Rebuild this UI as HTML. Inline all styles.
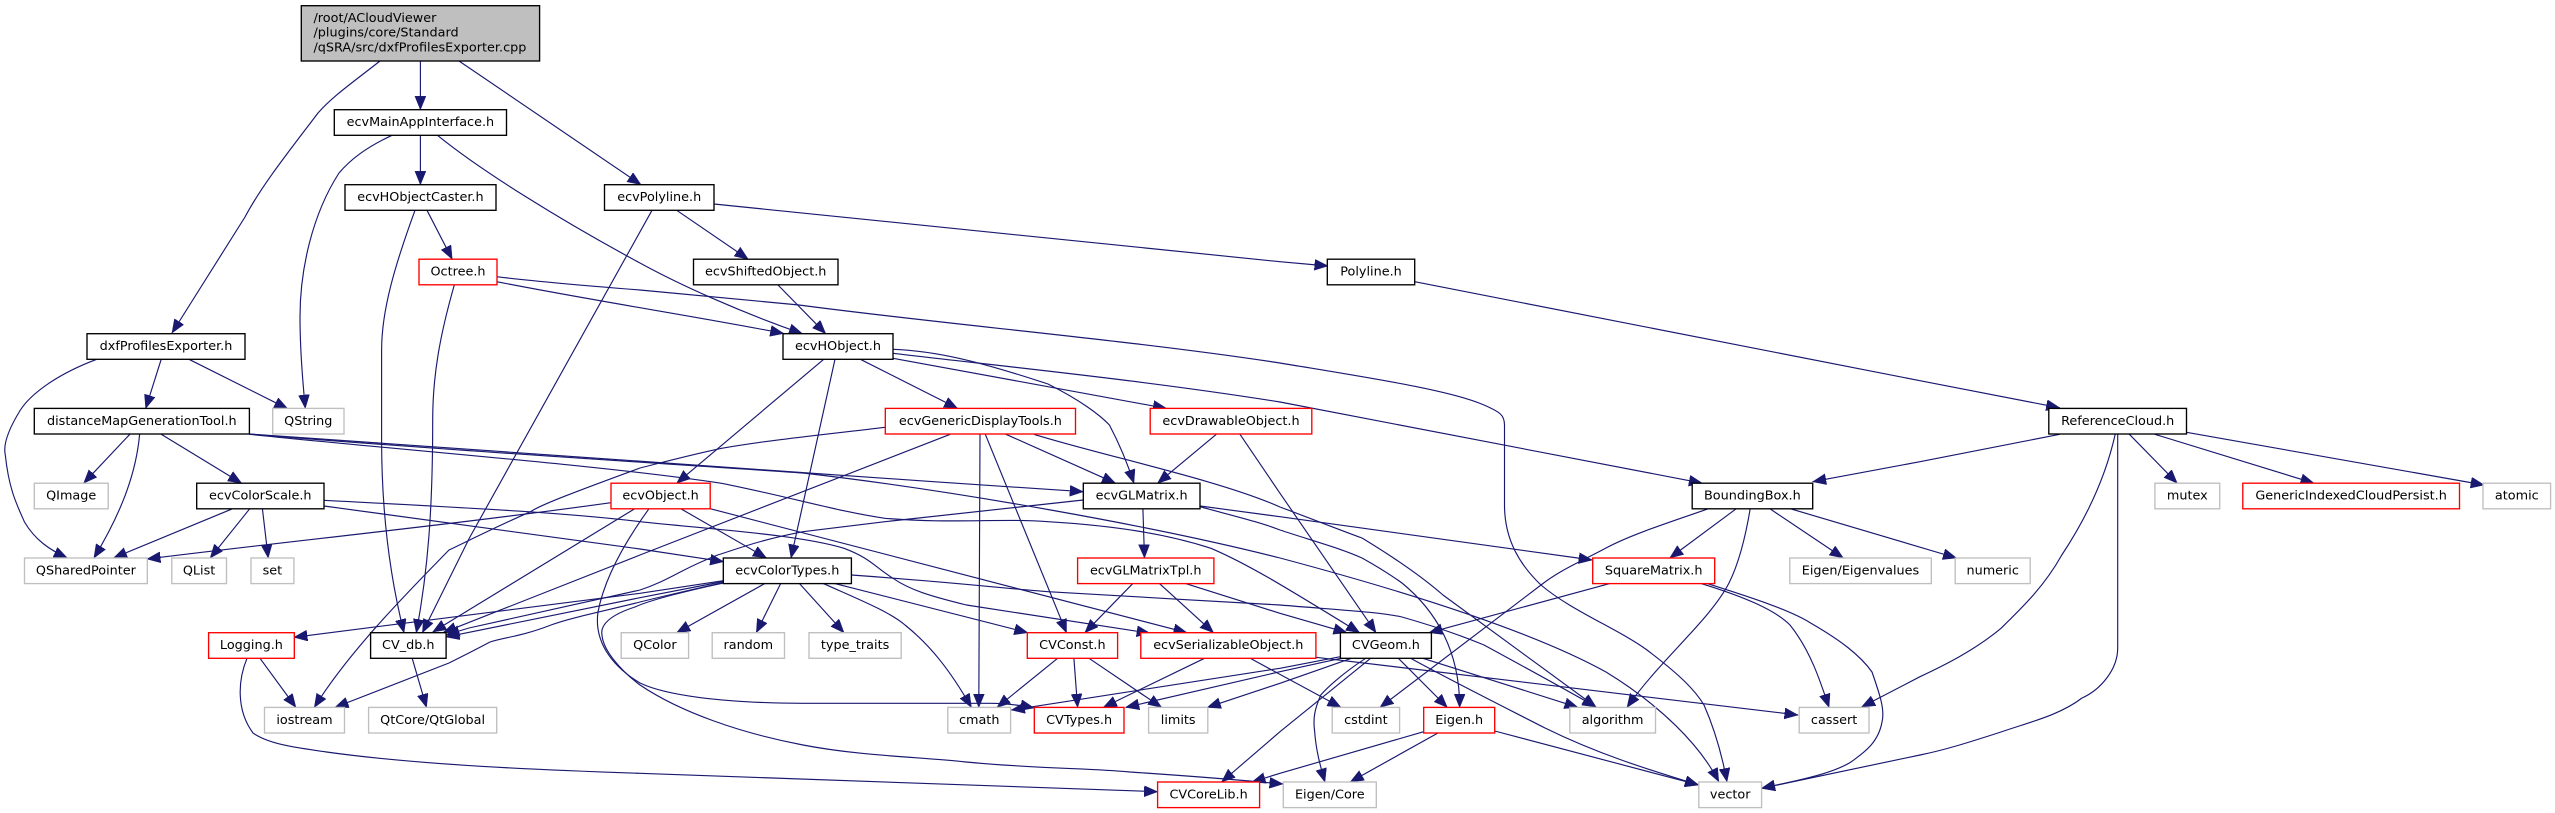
<!DOCTYPE html>
<html><head><meta charset="utf-8"><style>
html,body{margin:0;padding:0;background:#fff;width:2555px;height:813px;overflow:hidden}
svg{display:block}
text{font-family:"DejaVu Sans","Liberation Sans",sans-serif;font-size:12.8px;fill:#000;text-anchor:middle}
.e path{fill:none;stroke:#191970;stroke-width:1.15;marker-end:url(#a)}
.b rect{fill:#fff;stroke:#000;stroke-width:1.35}
.g rect{fill:#fff;stroke:#bfbfbf;stroke-width:1.35}
.r rect{fill:#fff;stroke:#ff0000;stroke-width:1.35}
</style></head><body>
<svg xmlns="http://www.w3.org/2000/svg" width="2555" height="813" viewBox="0 0 2555 813">
<defs><marker id="a" markerUnits="userSpaceOnUse" markerWidth="15" markerHeight="13" refX="13.5" refY="5.5" orient="auto"><path d="M0,0L13.5,5.5L0,11Z" fill="#191970" stroke="#191970" stroke-width=".5"/></marker></defs>
<rect width="2555" height="813" fill="#fff"/>
<g class="e">
<path d="M380,61C352,83 333,96 318,113C290,150 262,185 245,217L172,333"/>
<path d="M420.4,61L420.4,109.7"/>
<path d="M459,61L641,184.7"/>
<path d="M392,135.3C365,148 350,160 339,173C312,215 300,270 300,317C300,350 303,385 305.3,408.3"/>
<path d="M420.4,135.3L420.4,184.7"/>
<path d="M437.5,135.3C480,170 560,220 640,263C680,285 740,312 802.4,333.7"/>
<path d="M415,210.3C395,265 381.6,310 381.6,350L381.6,440C381.6,520 392,585 404,632.7"/>
<path d="M427,210.3L452.2,259.2"/>
<path d="M454.3,285C440,335 432.7,375 432.7,420C432.7,510 428,570 416.3,632.7"/>
<path d="M496.7,281.7C600,302 700,317 783.7,333.5"/>
<path d="M496.7,276.7C540,282 590,286 640,290C700,296 750,300 799,305C950,325 1130,340 1280,363C1370,378 1450,390 1484,405C1500,412 1504.5,415 1504.5,425L1504.5,505C1504.5,540 1520,565 1541,585C1570,610 1620,630 1647,650C1680,675 1695,690 1704,705C1715,730 1722,755 1727,781.7"/>
<path d="M652,210.3L469.4,538L422.4,632.7"/>
<path d="M676.7,210.3L748.2,259.2"/>
<path d="M713.9,204L1280,261.7L1328,266"/>
<path d="M778,285L825.7,333.7"/>
<path d="M1414.7,281.7L1920,380.7L2059.7,407.8"/>
<path d="M96.7,359.3C55,375 30,395 20.4,410C8,430 3,445 5.3,455C9,490 17,505 24.5,522C35,540 50,550 67.3,558"/>
<path d="M161.2,359.3L145.7,408.4"/>
<path d="M189,359.3L287.8,408.8"/>
<path d="M129.8,434.3L83.7,483.2"/>
<path d="M139.6,434.3C136,475 120,515 93.9,558"/>
<path d="M161.2,434.3L241.6,483.2"/>
<path d="M249.4,434C400,447 760,470 1083.3,491.7"/>
<path d="M249.4,434C400,447 640,462 803,473C950,490 1150,525 1280,558C1400,590 1530,630 1606,672C1660,705 1700,745 1718.8,781.7"/>
<path d="M249.4,434.3C400,450 600,465 721.6,483.3C790,497 840,512 885,518.3C950,524 1000,518 1048,521.7C1120,526 1170,535 1211,548.3C1250,565 1290,590 1359.6,632.7"/>
<path d="M232.7,508.7L113.5,558"/>
<path d="M249.8,508.7L210.2,558"/>
<path d="M262.4,508.7L268.2,558"/>
<path d="M324,500.3C450,507 560,512 640,521.7C720,530 800,535 844,548.3C870,558 875,567 893,578.3C910,590 930,596 966.5,605L1150.2,633.3"/>
<path d="M324,506L640,549L723.7,561.7"/>
<path d="M611,502.7C450,525 300,540 147,559"/>
<path d="M634.7,508.7L432.7,632"/>
<path d="M680.8,508.7L766.5,558"/>
<path d="M710.2,508.7L1187,632.7"/>
<path d="M649,508.7C630,535 605,575 598,612C594,640 610,665 640,683C665,695 720,703 803,703.3L990,703.3C1005,703.5 1020,705 1034,708"/>
<path d="M885.3,427.3C820,435 770,440 721.6,448.3C690,455 660,463 640,468C580,490 540,505 530.6,511.7C500,525 470,540 449,550C410,590 350,650 314.3,707.4"/>
<path d="M950.2,434.3L640,555L443,632.7"/>
<path d="M1083.3,500L885,521.7L803,531.7C760,540 740,548 717.6,555C700,562 690,567 680.8,571.7C665,580 655,585 640,590L469,628L446,635"/>
<path d="M723.3,580.7L640,593.3L293.9,637.3"/>
<path d="M723.3,581.5L640,597.7L446,637"/>
<path d="M723.3,582.5C690,590 660,597 640,602C600,612 570,618 551,625C520,637 505,637 490,642C475,650 465,655 449,663L335,707.4"/>
<path d="M723.3,583C690,590 650,600 635,607C610,615 600,625 602,635C603,650 620,670 640,685C680,712 740,733 803,745C860,756 920,757 966,762C1040,769 1090,768 1130,772C1190,776 1240,780 1283,784"/>
<path d="M765.3,583.3L676.7,632.7"/>
<path d="M780.8,583.3L756.3,632.7"/>
<path d="M799.2,583.3L844,632.7"/>
<path d="M822.9,583.3C860,600 890,612 905,625C930,645 950,670 971.4,707.4"/>
<path d="M833.9,583.3L1027.8,632.7"/>
<path d="M851.4,575C950,582 1000,588 1048,591.7C1130,597 1200,600 1280,605C1340,610 1380,612 1402,617C1430,625 1460,635 1484,645C1530,670 1570,692 1596,707"/>
<path d="M980,434.3L978.8,707.4"/>
<path d="M985.3,434.3L1066.5,632.7"/>
<path d="M1006,434.3L1115.5,483.2"/>
<path d="M1034,434.3C1100,455 1220,480 1280,507C1320,522 1340,530 1362,538C1390,555 1420,575 1443,595L1596,707"/>
<path d="M823.7,359.3L676.7,483.2"/>
<path d="M835,359.3L791,558"/>
<path d="M860.4,359.3L957.6,408.4"/>
<path d="M893,358.3L1166.5,408.4"/>
<path d="M893,349.3C935,351 975,360 1048,384C1080,400 1100,415 1109.4,425C1120,445 1128,465 1133.9,483.2"/>
<path d="M893,353.3C1000,366 1150,381 1280,402L1702.4,483.2"/>
<path d="M1216.3,434.3L1157.6,483.2"/>
<path d="M1240,434.3L1280,493.3L1376,632.7"/>
<path d="M1142.9,508.7L1144.5,558"/>
<path d="M1200,506L1280,516.7L1592.2,560"/>
<path d="M1200,506.7C1230,515 1260,522 1280,530C1310,540 1340,548 1362,558C1380,568 1395,578 1402,583C1435,610 1460,650 1459.6,707.4"/>
<path d="M1133,583.3L1084.9,632.7"/>
<path d="M1159.2,583.3L1213.5,632.7"/>
<path d="M1184.9,583.3L1280,613.3L1347,632.7"/>
<path d="M1204.5,658.3L1103.3,707.4"/>
<path d="M1250.2,658.3L1341,707.4"/>
<path d="M1316,657.3L1798,715"/>
<path d="M1057.6,658.3L997,707.4"/>
<path d="M1073.9,658.3L1077.6,707.4"/>
<path d="M1089,658.3L1161.6,707.4"/>
<path d="M1340.4,656.7L1280,668.3L1011.4,710"/>
<path d="M1341,658.3L1280,671.7L1125.7,707.4"/>
<path d="M1351.4,658.3L1280,683.3L1207.3,707.4"/>
<path d="M1370.6,658.3L1280,731.7L1221.6,782"/>
<path d="M1365.7,658.3C1340,675 1325,690 1320.8,695C1314,710 1313,720 1314.7,732C1316,750 1320,765 1324.9,782"/>
<path d="M1398.4,658.3L1447.3,707.4"/>
<path d="M1422.9,658.3L1578,707.4"/>
<path d="M1410.6,658.3C1450,680 1500,705 1545,728C1600,755 1650,770 1698.4,785"/>
<path d="M1708.6,508.7C1670,522 1630,535 1606,548C1580,562 1560,570 1541,585L1380,707.4"/>
<path d="M1423.7,731.7L1280,773.3L1252,782"/>
<path d="M1438.4,732.7L1350.2,782"/>
<path d="M1494.7,731L1698.8,785"/>
<path d="M260,658.3L295.9,707.4"/>
<path d="M247,658.3C238,680 236,710 253,733C270,745 300,748 326.5,752C420,765 540,770 640,773.3L1157.6,791.7"/>
<path d="M412.2,658.3L426.5,707.4"/>
<path d="M1736.3,508.7L1669.8,558"/>
<path d="M1750.2,508.7C1745,540 1738,565 1729,583C1710,620 1660,660 1627,707.4"/>
<path d="M1769.8,508.7L1843.3,558"/>
<path d="M1790.2,508.7L1956.5,558"/>
<path d="M1610.6,583.3L1429,632.7"/>
<path d="M1700.4,583.3C1745,597 1775,610 1790,625C1810,650 1820,680 1829,707.4"/>
<path d="M1706.5,583.3C1750,597 1790,610 1810.6,623C1840,640 1860,655 1872,672C1880,695 1885,710 1882,722C1878,745 1860,755 1851,762C1830,775 1790,782 1761.6,788.3"/>
<path d="M2059.7,434.3L1920,461.7L1812.7,481.7"/>
<path d="M2115.2,434.3C2105,480 2085,520 2061.8,555C2045,585 2025,605 2001,628.3C1975,650 1945,665 1920,676.7L1861.6,707"/>
<path d="M2117.7,434.3L2117.7,648C2117.7,670 2100,690 2082,698C2060,715 2030,722 2001,732C1970,742 1945,750 1920,755L1761.6,788.3"/>
<path d="M2129.4,434.3L2177.2,483.2"/>
<path d="M2154.9,434.3L2314,483.2"/>
<path d="M2186.5,432.3L2484.2,485"/>
</g>
<rect x="301.3" y="5.7" width="238.3" height="55.3" fill="#bfbfbf" stroke="#000" stroke-width="1.35"/>
<text x="313.5" y="22" style="text-anchor:start">/root/ACloudViewer</text>
<text x="313.5" y="36.7" style="text-anchor:start">/plugins/core/Standard</text>
<text x="313.5" y="51.3" style="text-anchor:start">/qSRA/src/dxfProfilesExporter.cpp</text>
<g class="b">
<rect x="334.3" y="109.7" width="172.2" height="25.6"/><text x="420.4" y="126.2">ecvMainAppInterface.h</text>
<rect x="345" y="184.7" width="151" height="25.6"/><text x="420.4" y="201.2">ecvHObjectCaster.h</text>
<rect x="604.5" y="184.7" width="109.5" height="25.6"/><text x="659.2" y="201.2">ecvPolyline.h</text>
<rect x="693.5" y="259.2" width="144.5" height="25.6"/><text x="765.7" y="275.7">ecvShiftedObject.h</text>
<rect x="1327.3" y="259.2" width="87.4" height="25.6"/><text x="1371" y="275.7">Polyline.h</text>
<rect x="87" y="333.7" width="158" height="25.6"/><text x="166" y="350.2">dxfProfilesExporter.h</text>
<rect x="783" y="333.7" width="110" height="25.6"/><text x="838" y="350.2">ecvHObject.h</text>
<rect x="2048.8" y="408.4" width="137.7" height="25.6"/><text x="2117.7" y="424.9">ReferenceCloud.h</text>
<rect x="34.3" y="408.4" width="215.1" height="25.6"/><text x="141.8" y="424.9">distanceMapGenerationTool.h</text>
<rect x="196.7" y="483.2" width="127.3" height="25.6"/><text x="260.3" y="499.7">ecvColorScale.h</text>
<rect x="1083.3" y="483.2" width="116.7" height="25.6"/><text x="1141.6" y="499.7">ecvGLMatrix.h</text>
<rect x="1692.2" y="483.2" width="120.5" height="25.6"/><text x="1752.4" y="499.7">BoundingBox.h</text>
<rect x="723.3" y="558" width="128.1" height="25.6"/><text x="787.3" y="574.5">ecvColorTypes.h</text>
<rect x="370.6" y="632.7" width="75.5" height="25.6"/><text x="408.3" y="649.2">CV_db.h</text>
<rect x="1340.4" y="632.7" width="91" height="25.6"/><text x="1385.9" y="649.2">CVGeom.h</text>
</g>
<g class="r">
<rect x="419" y="259.2" width="78" height="25.6"/><text x="458" y="275.7">Octree.h</text>
<rect x="885.3" y="408.4" width="190.2" height="25.6"/><text x="980.4" y="424.9">ecvGenericDisplayTools.h</text>
<rect x="1150.2" y="408.4" width="161.6" height="25.6"/><text x="1231" y="424.9">ecvDrawableObject.h</text>
<rect x="611" y="483.2" width="99.2" height="25.6"/><text x="660.6" y="499.7">ecvObject.h</text>
<rect x="2242.8" y="483.2" width="216.7" height="25.6"/><text x="2351.1" y="499.7">GenericIndexedCloudPersist.h</text>
<rect x="1077.6" y="558" width="136.3" height="25.6"/><text x="1145.7" y="574.5">ecvGLMatrixTpl.h</text>
<rect x="1592.7" y="558" width="122" height="25.6"/><text x="1653.7" y="574.5">SquareMatrix.h</text>
<rect x="208.6" y="632.7" width="85.7" height="25.6"/><text x="251.4" y="649.2">Logging.h</text>
<rect x="1027.3" y="632.7" width="90.3" height="25.6"/><text x="1072.4" y="649.2">CVConst.h</text>
<rect x="1140.8" y="632.7" width="175.1" height="25.6"/><text x="1228.3" y="649.2">ecvSerializableObject.h</text>
<rect x="1034.3" y="707.4" width="89.7" height="25.6"/><text x="1079.1" y="723.9">CVTypes.h</text>
<rect x="1423.7" y="707.4" width="71" height="25.6"/><text x="1459.2" y="723.9">Eigen.h</text>
<rect x="1157.6" y="782" width="102" height="25.6"/><text x="1208.6" y="798.5">CVCoreLib.h</text>
</g>
<g class="g">
<rect x="272.7" y="408.4" width="71.3" height="25.6"/><text x="308.3" y="424.9">QString</text>
<rect x="34.3" y="483.2" width="73.9" height="25.6"/><text x="71.2" y="499.7">QImage</text>
<rect x="2154.9" y="483.2" width="64.8" height="25.6"/><text x="2187.3" y="499.7">mutex</text>
<rect x="2483" y="483.2" width="67.6" height="25.6"/><text x="2516.8" y="499.7">atomic</text>
<rect x="24.5" y="558" width="122.8" height="25.6"/><text x="85.9" y="574.5">QSharedPointer</text>
<rect x="171.8" y="558" width="54.7" height="25.6"/><text x="199.1" y="574.5">QList</text>
<rect x="251" y="558" width="42.9" height="25.6"/><text x="272.4" y="574.5">set</text>
<rect x="1789.8" y="558" width="141.5" height="25.6"/><text x="1860.5" y="574.5">Eigen/Eigenvalues</text>
<rect x="1955.2" y="558" width="75" height="25.6"/><text x="1992.7" y="574.5">numeric</text>
<rect x="621.2" y="632.7" width="67.4" height="25.6"/><text x="654.9" y="649.2">QColor</text>
<rect x="712.2" y="632.7" width="72.3" height="25.6"/><text x="748.3" y="649.2">random</text>
<rect x="809" y="632.7" width="92.2" height="25.6"/><text x="855.1" y="649.2">type_traits</text>
<rect x="264.5" y="707.4" width="80" height="25.6"/><text x="304.5" y="723.9">iostream</text>
<rect x="368.6" y="707.4" width="128.1" height="25.6"/><text x="432.6" y="723.9">QtCore/QtGlobal</text>
<rect x="947.8" y="707.4" width="62.8" height="25.6"/><text x="979.2" y="723.9">cmath</text>
<rect x="1148.6" y="707.4" width="59.2" height="25.6"/><text x="1178.2" y="723.9">limits</text>
<rect x="1332.2" y="707.4" width="67.4" height="25.6"/><text x="1365.9" y="723.9">cstdint</text>
<rect x="1569.8" y="707.4" width="85.7" height="25.6"/><text x="1612.6" y="723.9">algorithm</text>
<rect x="1799.2" y="707.4" width="69.8" height="25.6"/><text x="1834.1" y="723.9">cassert</text>
<rect x="1283.3" y="782" width="93" height="25.6"/><text x="1329.8" y="798.5">Eigen/Core</text>
<rect x="1698.8" y="782" width="62.8" height="25.6"/><text x="1730.2" y="798.5">vector</text>
</g>
</svg>
</body></html>
